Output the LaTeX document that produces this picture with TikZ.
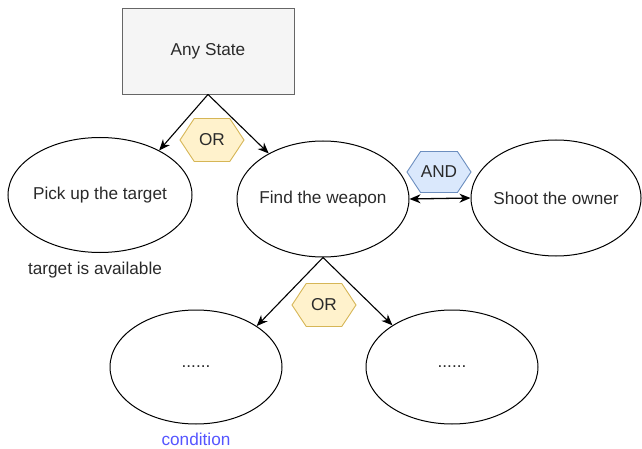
\documentclass[tikz,border=0pt]{standalone}
\usepackage{fontspec}
\setmainfont{Liberation Sans}
\usetikzlibrary{shapes.geometric,shapes.symbols,arrows.meta}
\definecolor{boxfill}{HTML}{F5F5F5}
\definecolor{boxline}{HTML}{666666}
\definecolor{orfill}{HTML}{FFF2CC}
\definecolor{orline}{HTML}{D6B656}
\definecolor{andfill}{HTML}{DAE8FC}
\definecolor{andline}{HTML}{6C8EBF}
\definecolor{txt}{HTML}{2A2A2A}
\definecolor{condblue}{HTML}{5555FF}
% label of zero width, so the ellipse keeps its given size
\newcommand{\centred}[1]{\makebox[0pt]{#1}}
\tikzset{
  base/.style={font=\fontsize{17.2}{20}\selectfont, text=txt},
  statebox/.style={base, draw=boxline, fill=boxfill, line width=0.9pt,
    minimum width=172pt, minimum height=86pt, inner sep=0pt},
  task/.style={base, ellipse, draw=black, line width=1pt, inner sep=0pt},
  gate/.style={base, signal, signal to=east and west, signal pointer angle=113,
    minimum width=64pt, minimum height=43pt, inner sep=0pt, line width=0.9pt},
  orgate/.style={gate, draw=orline, fill=orfill},
  andgate/.style={gate, draw=andline, fill=andfill, minimum height=41pt},
  link/.style={draw=black, line width=1.1pt, -{Stealth[length=11pt,width=9pt,inset=3.5pt]}},
  bilink/.style={draw=black, line width=1.3pt, {Stealth[length=11pt,width=9pt,inset=3.5pt]}-{Stealth[length=11pt,width=9pt,inset=3.5pt]}},
  note/.style={base},
}
\begin{document}
\begin{tikzpicture}[x=1pt,y=-1pt]
  \useasboundingbox (0,0) rectangle (642,449);

  \node[statebox] (any) at (208,51) {Any State};

  \node[task, minimum width=184pt, minimum height=115pt] (pick) at (100,195) {\centred{Pick up the target}};
  \node[task, minimum width=172pt, minimum height=116pt] (weapon) at (323,199) {\centred{Find the weapon}};
  \node[task, minimum width=170pt, minimum height=116pt] (shoot) at (556,198) {\centred{Shoot the owner}};
  \node[task, minimum width=172pt, minimum height=114pt] (left) at (196,367) {\centred{......}};
  \node[task, minimum width=172pt, minimum height=114pt] (right) at (452,367) {\centred{......}};

  \node[orgate] (or1) at (212,140) {OR};
  \node[andgate] (and) at (439,172) {AND};
  \node[orgate] (or2) at (324,305) {OR};

  \node[note] (avail) at (95,270) {target is available};
  \node[note, text=condblue] (cond) at (196,439) {condition};

  \draw[link] (any.south) -- (pick.37);
  \draw[link] (any.south) -- (weapon.140);
  \draw[link] (weapon.south) -- (left.34);
  \draw[link] (weapon.south) -- (right.145);
  \draw[bilink] (weapon.east) -- (shoot.west);
\end{tikzpicture}
\end{document}
